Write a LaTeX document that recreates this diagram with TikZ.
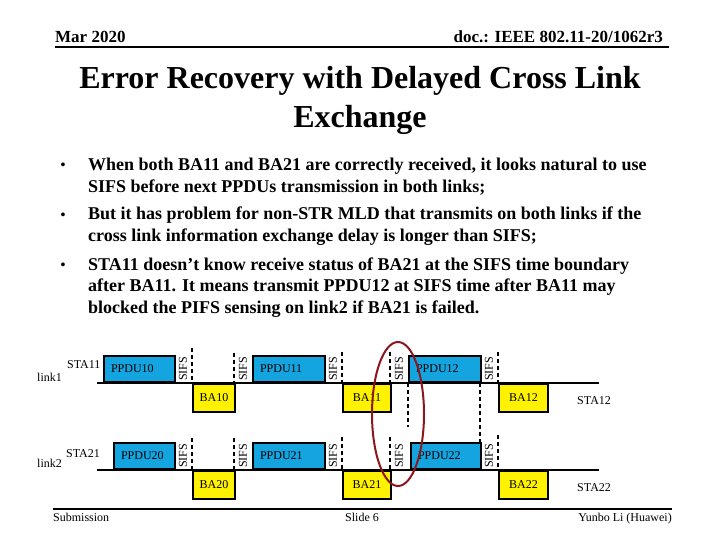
\documentclass[tikz,border=0pt]{standalone}
\usepackage{fontspec}
\setmainfont{Liberation Serif}
\definecolor{ppdublue}{RGB}{20,165,225}
\definecolor{ovalred}{RGB}{140,22,30}
\begin{document}
\begin{tikzpicture}[x=1pt,y=-1pt,
  hdr/.style={font=\fontsize{17}{20}\selectfont\bfseries, inner sep=0pt},
  ttl/.style={font=\fontsize{32}{39}\selectfont\bfseries, inner sep=0pt, anchor=base},
  blt/.style={font=\fontsize{18}{21.5}\selectfont\bfseries, inner sep=0pt, anchor=base west},
  dot/.style={font=\fontsize{14}{16}\selectfont\bfseries, inner sep=0pt, anchor=base},
  lab/.style={font=\fontsize{12}{14}\selectfont, inner sep=0pt},
  ppdu/.style={draw, line width=2pt, fill=ppdublue, minimum height=26pt, inner xsep=7pt, inner ysep=0pt, align=left, anchor=south west, font=\fontsize{12}{14}\selectfont},
  ba/.style={draw, line width=2pt, fill=yellow, minimum height=28pt, inner sep=0pt, anchor=north west, font=\fontsize{12}{14}\selectfont},
  sifs/.style={lab, rotate=90, anchor=west},
  dsh/.style={line width=1.5pt, dash pattern=on 4pt off 3pt},
  baseln/.style={line width=2pt},
  rule/.style={line width=2pt}]
\fill[white] (0,0) rectangle (720,540);
\useasboundingbox (0,0) rectangle (720,540);

% header
\node[hdr, anchor=base west] (mar) at (55,43) {Mar 2020};
\node[hdr, anchor=base east] (doc) at (663,43) {doc.: IEEE 802.11-20/1062r3};
\coordinate (hl) at (55,47);
\coordinate (hr) at (669,47);
\draw[rule] (hl) -- (hr);

% title
\node[ttl] (t1) at (360,89) {Error Recovery with Delayed Cross Link};
\node[ttl] (t2) at (360,128) {Exchange};

% bullets
\node[dot] (d1) at (63,170) {•};
\node[blt] (b1a) at (88,171) {When both BA11 and BA21 are correctly received, it looks natural to use};
\node[blt] (b1b) at (88,192.5) {SIFS before next PPDUs transmission in both links;};
\node[dot] (d2) at (63,219) {•};
\node[blt] (b2a) at (88,220) {But it has problem for non-STR MLD that transmits on both links if the};
\node[blt] (b2b) at (88,241.5) {cross link information exchange delay is longer than SIFS;};
\node[dot] (d3) at (63,269) {•};
\node[blt] (b3a) at (88,270) {STA11 doesn’t know receive status of BA21 at the SIFS time boundary};
\node[blt] (b3b) at (88,291.5) {after BA11. It means transmit PPDU12 at SIFS time after BA11 may};
\node[blt] (b3c) at (88,313) {blocked the PIFS sensing on link2 if BA21 is failed.};

% link baselines
\coordinate (l1s) at (97,383);
\coordinate (l1e) at (599,383);
\coordinate (l2s) at (97,470);
\coordinate (l2e) at (599,470);
\draw[baseln] (l1s) -- (l1e);
\draw[baseln] (l2s) -- (l2e);

% dashed lines link1
\draw[dsh] (192,348) -- (192,383);
\draw[dsh] (234,353) -- (234,383);
\draw[dsh] (342,352) -- (342,383);
\draw[dsh] (390,352) -- (390,383);
\draw[dsh] (408,383) -- (408,427);
\draw[dsh] (480,383) -- (480,443);
\draw[dsh] (498,352) -- (498,383);
% dashed lines link2
\draw[dsh] (192,438) -- (192,470);
\draw[dsh] (234,438) -- (234,470);
\draw[dsh] (342,437) -- (342,470);
\draw[dsh] (390,437) -- (390,470);
\draw[dsh] (498,435) -- (498,470);

% link1 boxes
\node[ppdu, text width=57pt] (p10) at (103,383) {PPDU10};
\node[ppdu, text width=58pt] (p11) at (252,383) {PPDU11};
\node[ppdu, text width=58pt] (p12) at (408,383) {PPDU12};
\node[ba, minimum width=42pt] (a10) at (192,383) {BA10};
\node[ba, minimum width=48pt] (a11) at (342,383) {BA11};
\node[ba, minimum width=49pt] (a12) at (498,383) {BA12};

% link2 boxes
\node[ppdu, text width=47pt] (p20) at (113,470) {PPDU20};
\node[ppdu, text width=58pt] (p21) at (252,470) {PPDU21};
\node[ppdu, text width=56pt] (p22) at (410,470) {PPDU22};
\node[ba, minimum width=42pt] (a20) at (192,470) {BA20};
\node[ba, minimum width=48pt] (a21) at (342,470) {BA21};
\node[ba, minimum width=49pt] (a22) at (498,470) {BA22};

% SIFS labels
\node[sifs] (s11) at (183,381) {SIFS};
\node[sifs] (s12) at (243,381) {SIFS};
\node[sifs] (s13) at (333,381) {SIFS};
\node[sifs] (s14) at (399,381) {SIFS};
\node[sifs] (s15) at (489,381) {SIFS};
\node[sifs] (s21) at (183,468) {SIFS};
\node[sifs] (s22) at (243,468) {SIFS};
\node[sifs] (s23) at (333,468) {SIFS};
\node[sifs] (s24) at (399,468) {SIFS};
\node[sifs] (s25) at (489,468) {SIFS};

% station / link labels
\node[lab, anchor=base west] (lk1) at (37,381) {link1};
\node[lab, anchor=base west] (st11) at (67,368) {STA11};
\node[lab, anchor=base west] (lk2) at (37,467) {link2};
\node[lab, anchor=base west] (st21) at (66,457) {STA21};
\node[lab, anchor=base west] (st12) at (577,404) {STA12};
\node[lab, anchor=base west] (st22) at (577,491) {STA22};

% red oval
\draw[ovalred, line width=2pt] (398,414) ellipse [x radius=26, y radius=72];

% footer
\coordinate (fl) at (53,509);
\coordinate (fr) at (672,509);
\draw[line width=1.5pt] (fl) -- (fr);
\node[lab, anchor=base west] (sub) at (53,521) {Submission};
\node[lab, anchor=base] (sld) at (362,521) {Slide 6};
\node[lab, anchor=base east] (auth) at (672,521) {Yunbo Li (Huawei)};
\end{tikzpicture}
\end{document}
